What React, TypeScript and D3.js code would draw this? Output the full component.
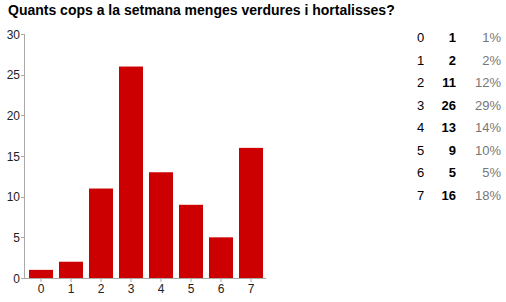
import React from "react";
import * as d3 from "d3";

const title = "Quants cops a la setmana menges verdures i hortalisses?";
const categories = ["0", "1", "2", "3", "4", "5", "6", "7"];
const counts = [1, 2, 11, 26, 13, 9, 5, 16];
const percents = ["1%", "2%", "12%", "29%", "14%", "10%", "5%", "18%"];
const yTicks = [0, 5, 10, 15, 20, 25, 30];

const W = 506;
const H = 302;
const font = "'Liberation Sans', Arial, sans-serif";

export default function App() {
  const x = d3.scaleBand<string>().domain(categories).range([26, 266]).paddingInner(0.2).paddingOuter(0.1);
  const y = d3.scaleLinear().domain([0, 30]).range([278, 34]);
  const legendY = d3.scalePoint<string>().domain(categories).range([37.5, 195]);
  const axisColor = "#aaa";

  return (
    <svg
      width={W}
      height={H}
      style={{ position: "absolute", left: 0, top: 0, fontFamily: font }}
    >
      <rect width={W} height={H} fill="#fff" />
      <text x={8} y={15} fontSize={14} fontWeight="bold" fill="#000">
        {title}
      </text>

      {/* bars */}
      {categories.map((c, i) => (
        <rect
          key={c}
          x={x(c)}
          y={y(counts[i])}
          width={x.bandwidth()}
          height={y(0) - y(counts[i])}
          fill="#cc0000"
        />
      ))}

      {/* y axis */}
      <line x1={24.5} x2={24.5} y1={y(30)} y2={y(0)} stroke={axisColor} />
      {yTicks.map((t) => (
        <g key={t}>
          <line x1={21} x2={24.5} y1={Math.round(y(t)) + 0.5} y2={Math.round(y(t)) + 0.5} stroke={axisColor} />
          <text x={20} y={y(t) + 4.5} fontSize={12} textAnchor="end" fill="#222">
            {t}
          </text>
        </g>
      ))}

      {/* x axis */}
      <line x1={24} x2={266} y1={278.5} y2={278.5} stroke={axisColor} />
      {categories.map((c) => {
        const cx = (x(c) as number) + x.bandwidth() / 2;
        return (
          <g key={c}>
            <line x1={cx} x2={cx} y1={278.5} y2={282} stroke={axisColor} />
            <text x={cx} y={292.5} fontSize={12} textAnchor="middle" fill="#222">
              {c}
            </text>
          </g>
        );
      })}

      {/* legend table */}
      {categories.map((c, i) => {
        const ly = (legendY(c) as number) + 4.5;
        return (
          <g key={c} fontSize={13}>
            <text x={417} y={ly} fill="#000">
              {c}
            </text>
            <text x={456} y={ly} textAnchor="end" fontWeight="bold" fill="#000">
              {counts[i]}
            </text>
            <text x={501} y={ly} textAnchor="end" fill="#777">
              {percents[i]}
            </text>
          </g>
        );
      })}
    </svg>
  );
}
